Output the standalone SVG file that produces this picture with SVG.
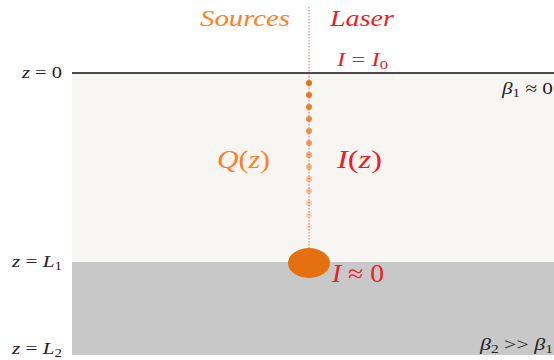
<svg xmlns="http://www.w3.org/2000/svg" width="554" height="360" viewBox="0 0 554 360">
<defs>
<style>
text{font-family:'Liberation Serif','DejaVu Serif',serif}
.t{font-style:italic}
.n{font-style:normal}
.or{fill:#ff7f27}
.rd{fill:#ee1c25}
.bk{fill:#222}
.dot{fill:#e5700f}
</style>
</defs>
<rect width="554" height="360" fill="#ffffff"/>
<g id="layer1">
<rect x="72" y="73" width="482" height="189" fill="#f7f6f3"/>
</g>
<g id="layer2">
<rect x="72" y="262" width="482" height="93" fill="#c8c8c8"/>
</g>
<g id="surface">
<line x1="72" y1="73" x2="554" y2="73" stroke="#111" stroke-width="1.3"/>
</g>
<g id="connectors">
<line x1="309" y1="7" x2="309" y2="262" stroke="#ee1c25" stroke-width="0.8" stroke-dasharray="1.5,1.5" opacity="0.8"/>
</g>
<g id="sources">
<circle class="dot" cx="309" cy="83" r="3" opacity="1"/>
<circle class="dot" cx="309" cy="95" r="3" opacity="0.93"/>
<circle class="dot" cx="309" cy="107" r="3" opacity="0.86"/>
<circle class="dot" cx="309" cy="119" r="3" opacity="0.79"/>
<circle class="dot" cx="309" cy="131" r="3" opacity="0.72"/>
<circle class="dot" cx="309" cy="143" r="3" opacity="0.65"/>
<circle class="dot" cx="309" cy="155" r="3" opacity="0.58"/>
<circle class="dot" cx="309" cy="167" r="3" opacity="0.51"/>
<circle class="dot" cx="309" cy="179" r="3" opacity="0.44"/>
<circle class="dot" cx="309" cy="191" r="3" opacity="0.37"/>
<circle class="dot" cx="309" cy="203" r="3" opacity="0.30"/>
<circle class="dot" cx="309" cy="215" r="3" opacity="0.22"/>
<circle class="dot" cx="309" cy="227" r="3" opacity="0.15"/>
</g>
<g id="blob">
<ellipse cx="309" cy="263" rx="21" ry="15" fill="#e5700f"/>
</g>
<g id="labels">
<text class="t or" x="200" y="26" font-size="24" textLength="90" lengthAdjust="spacingAndGlyphs">Sources</text>
<text class="t rd" x="330" y="26" font-size="24" textLength="64" lengthAdjust="spacingAndGlyphs">Laser</text>
<text class="rd" x="337" y="66" font-size="18" textLength="51" lengthAdjust="spacingAndGlyphs"><tspan class="t">I</tspan><tspan class="n"> = </tspan><tspan class="t">I</tspan><tspan class="n" font-size="12" dy="3">0</tspan></text>
<text class="or" x="217" y="168" font-size="26" textLength="53" lengthAdjust="spacingAndGlyphs"><tspan class="t">Q</tspan><tspan class="n">(</tspan><tspan class="t">z</tspan><tspan class="n">)</tspan></text>
<text class="rd" x="337" y="168" font-size="26" textLength="45" lengthAdjust="spacingAndGlyphs"><tspan class="t">I</tspan><tspan class="n">(</tspan><tspan class="t">z</tspan><tspan class="n">)</tspan></text>
<text class="rd" x="332" y="282" font-size="25" textLength="52" lengthAdjust="spacingAndGlyphs"><tspan class="t">I</tspan><tspan class="n"> ≈ 0</tspan></text>
<text class="bk" x="22" y="78" font-size="17" textLength="40" lengthAdjust="spacingAndGlyphs"><tspan class="t">z</tspan><tspan class="n"> = 0</tspan></text>
<text class="bk" x="12" y="267" font-size="17" textLength="50" lengthAdjust="spacingAndGlyphs"><tspan class="t">z</tspan><tspan class="n"> = </tspan><tspan class="t">L</tspan><tspan class="n" font-size="12" dy="3">1</tspan></text>
<text class="bk" x="12" y="354" font-size="17" textLength="50" lengthAdjust="spacingAndGlyphs"><tspan class="t">z</tspan><tspan class="n"> = </tspan><tspan class="t">L</tspan><tspan class="n" font-size="12" dy="3">2</tspan></text>
<text class="bk" x="502" y="94" font-size="17" textLength="51" lengthAdjust="spacingAndGlyphs"><tspan class="t">β</tspan><tspan class="n" font-size="12" dy="3">1</tspan><tspan class="n" dy="-3"> ≈ 0</tspan></text>
<text class="bk" x="480" y="350" font-size="17" textLength="73" lengthAdjust="spacingAndGlyphs"><tspan class="t">β</tspan><tspan class="n" font-size="12" dy="3">2</tspan><tspan class="n" dy="-3"> &gt;&gt; </tspan><tspan class="t">β</tspan><tspan class="n" font-size="12" dy="3">1</tspan></text>
</g>
</svg>
